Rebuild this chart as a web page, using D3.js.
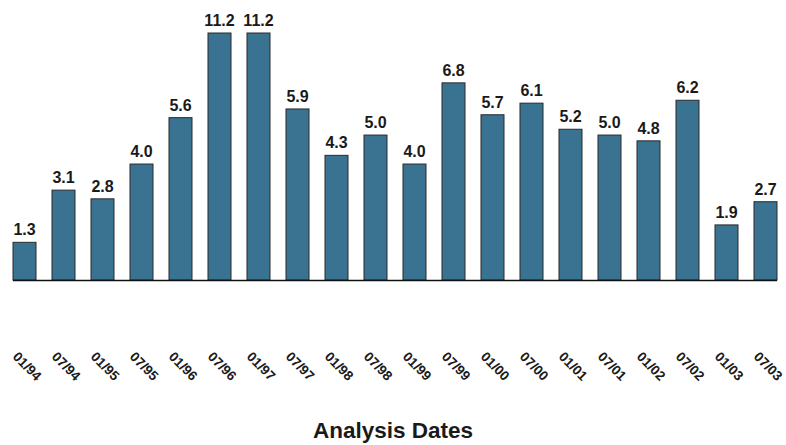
<!DOCTYPE html>
<html>
<head>
<meta charset="utf-8">
<script src="https://cdn.jsdelivr.net/npm/d3@7"></script>
<style>
  body { margin: 0; background: #fff; }
  svg { display: block; }
</style>
</head>
<body>
<div id="chart"></div>
<script>
const dates = ["01/94", "07/94", "01/95", "07/95", "01/96", "07/96", "01/97", "07/97", "01/98", "07/98",
  "01/99", "07/99", "01/00", "07/00", "01/01", "07/01", "01/02", "07/02", "01/03", "07/03"];
const values = [1.3, 3.1, 2.8, 4.0, 5.6, 11.2, 11.2, 5.9, 4.3, 5.0,
  4.0, 6.8, 5.7, 6.1, 5.2, 5.0, 4.8, 6.2, 1.9, 2.7];
const xTitle = "Analysis Dates";

const width = 786, height = 445;
const baseY = 280, topY = 33;

//scale
const xScale = d3.scaleBand().domain(dates).range([5, 785]).paddingInner(0.41).paddingOuter(0.205);
// the two tallest bars are cut at the top of the plot
const yScale = d3.scaleLinear().domain([0, 8.52]).range([baseY, topY]).clamp(true);

const svg = d3.select("#chart").append("svg")
  .attr("width", width)
  .attr("height", height);

const data = dates.map((d, i) => ({ date: d, value: values[i] }));

//bars
svg.append("g").attr("class", "mark")
  .selectAll("rect")
  .data(data)
  .join("rect")
  .attr("x", (d) => xScale(d.date))
  .attr("y", (d) => yScale(d.value))
  .attr("width", xScale.bandwidth())
  .attr("height", (d) => baseY - yScale(d.value))
  .attr("fill", "#3a7292")
  .attr("stroke", "#2a2a2a")
  .attr("stroke-width", 1);

//value labels
svg.append("g").attr("class", "labels")
  .selectAll("text")
  .data(data)
  .join("text")
  .attr("x", (d) => xScale(d.date) + xScale.bandwidth() / 2)
  .attr("y", (d) => yScale(d.value) - 7)
  .attr("text-anchor", "middle")
  .attr("font-family", "'Liberation Sans', Arial, sans-serif")
  .attr("font-weight", "bold")
  .attr("font-size", 16)
  .attr("fill", "#1a1a1a")
  .text((d) => d.value.toFixed(1));

//baseline
const x0 = xScale(dates[0]);
const x1 = xScale(dates[dates.length - 1]) + xScale.bandwidth();
svg.append("line")
  .attr("x1", x0).attr("x2", x1)
  .attr("y1", baseY + 0.5).attr("y2", baseY + 0.5)
  .attr("stroke", "#111")
  .attr("stroke-width", 1.5);

//x-axis labels
svg.append("g").attr("class", "x-axis")
  .selectAll("text")
  .data(dates)
  .join("text")
  .attr("transform", (d) => `translate(${xScale(d) + xScale.bandwidth() / 2 + 2},${367}) rotate(45)`)
  .attr("text-anchor", "middle")
  .attr("dominant-baseline", "middle")
  .attr("font-family", "'Liberation Sans Narrow', 'Liberation Sans', Arial, sans-serif")
  .attr("font-weight", "bold")
  .attr("font-size", 13.5)
  .attr("fill", "#1a1a1a")
  .text((d) => d);

//title
svg.append("text")
  .attr("x", 393)
  .attr("y", 438)
  .attr("text-anchor", "middle")
  .attr("font-family", "'Liberation Sans', Arial, sans-serif")
  .attr("font-weight", "bold")
  .attr("font-size", 22.5)
  .attr("fill", "#1a1a1a")
  .text(xTitle);
</script>
</body>
</html>
